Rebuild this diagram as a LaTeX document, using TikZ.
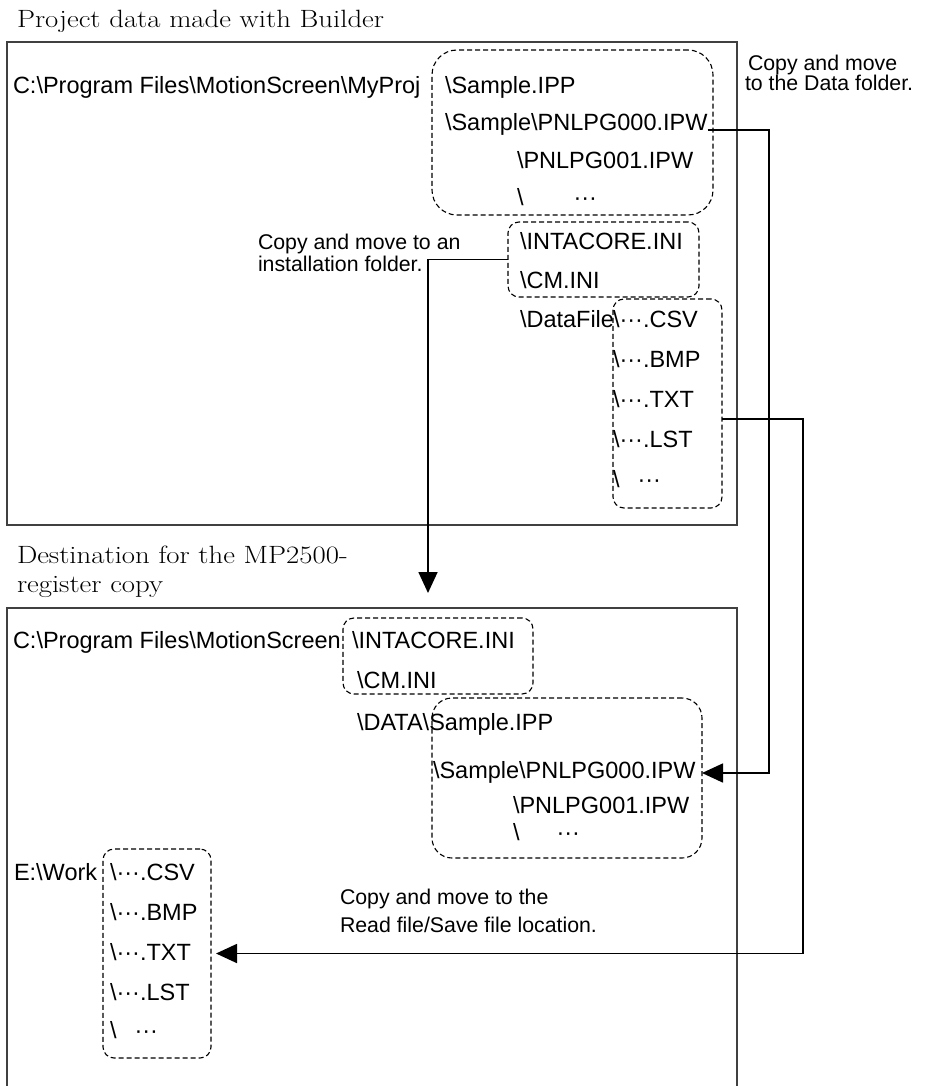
\documentclass[tikz,border=0pt]{standalone}
\usepackage{fontspec}
\usepackage{graphicx}
\usetikzlibrary{arrows.meta}
\newfontfamily\sansf{Liberation Sans}
\newcommand\myBs{\textbackslash}
\newcommand\mydots{\textperiodcentered\textperiodcentered\textperiodcentered}
\tikzset{
 txt/.style={anchor=base west, inner sep=0pt, outer sep=0pt, font=\sansf\fontsize{23.5}{28}\selectfont},
 lbl/.style={anchor=base west, inner sep=0pt, outer sep=0pt, font=\sansf\fontsize{21.3}{25}\selectfont},
 ttl/.style={anchor=base west, inner sep=0pt, outer sep=0pt, font=\fontsize{25}{30}\selectfont},
 dbox/.style={draw=black, dash pattern=on 5pt off 3pt, line width=1.1pt, rounded corners=#1, inner sep=0pt, outer sep=0pt},
 frame/.style={draw=black!75, line width=1.3pt},
 conn/.style={line width=1.7pt, -{Triangle[length=21pt,width=19pt]}},
}
\begin{document}
\begin{tikzpicture}[x=1pt,y=-1pt]
\useasboundingbox (0,0) rectangle (927,1086);
% ---------- top part ----------
\node[ttl] (t1) at (17,28) {\scalebox{1.15}[1]{Project data made with Builder}};
\node[frame, minimum width=730pt, minimum height=483pt, inner sep=0pt, outer sep=0pt] (fr1) at (372,283.5) {};

\node[txt] (p1) at (13,94) {C:\myBs{}Program Files\myBs{}MotionScreen\myBs{}MyProj};
\node[txt] (s1) at (445,94) {\myBs{}Sample.IPP};
\node[txt] (s2) at (445,131) {\myBs{}Sample\myBs{}PNLPG000.IPW};
\node[txt] (s3) at (517,168) {\myBs{}PNLPG001.IPW};
\node[txt] (s4) at (517,205) {\myBs\hspace{50pt}\mydots};
\node[dbox=25, minimum width=281pt, minimum height=165pt] (box1) at (572.5,132.5) {};

\node[lbl] (l1a) at (748,71) {Copy and move};
\node[lbl] (l1b) at (745,91) {to the Data folder.};

\node[lbl] (l2a) at (258,249) {Copy and move to an};
\node[lbl] (l2b) at (258,271) {installation folder.};

\node[txt] (i1) at (520,249) {\myBs{}INTACORE.INI};
\node[txt] (i2) at (520,288) {\myBs{}CM.INI};
\node[dbox=11, minimum width=191pt, minimum height=75pt] (box2) at (603.5,259.5) {};

\node[txt] (df) at (520,327) {\myBs{}DataFile};
\node[txt] (f1) at (613,327) {\myBs\mydots.CSV};
\node[txt] (f2) at (613,367) {\myBs\mydots.BMP};
\node[txt] (f3) at (613,407) {\myBs\mydots.TXT};
\node[txt] (f4) at (613,447) {\myBs\mydots.LST};
\node[txt] (f5) at (613,487) {\myBs\hspace{18pt}\mydots};
\node[dbox=11, minimum width=109pt, minimum height=209pt] (box3) at (667.5,403.5) {};

% ---------- bottom part ----------
\node[ttl] (t2a) at (17,563) {\scalebox{1.15}[1]{Destination for the MP2500-}};
\node[ttl] (t2b) at (17,592) {\scalebox{1.15}[1]{register copy}};
\draw[frame] (7,1086) -- (7,608) -- (737,608) -- (737,1086);

\node[txt] (q1) at (13,648) {C:\myBs{}Program Files\myBs{}MotionScreen};
\node[txt] (q2) at (352,648) {\myBs{}INTACORE.INI};
\node[txt] (q3) at (357,688) {\myBs{}CM.INI};
\node[dbox=11, minimum width=190pt, minimum height=76pt] (box4) at (438,656) {};

\node[txt] (q4) at (357,730) {\myBs{}DATA\myBs{}Sample.IPP};
\node[txt] (q5) at (433,778) {\myBs{}Sample\myBs{}PNLPG000.IPW};
\node[txt] (q6) at (513,813) {\myBs{}PNLPG001.IPW};
\node[txt] (q7) at (513,840) {\myBs\hspace{37pt}\mydots};
\node[dbox=20, minimum width=270pt, minimum height=160pt] (box5) at (567,778) {};

\node[lbl] (l3a) at (340,904) {Copy and move to the};
\node[lbl] (l3b) at (340,932) {Read file/Save file location.};

\node[txt] (e0) at (14,880) {E:\myBs{}Work};
\node[txt] (e1) at (110,880) {\myBs\mydots.CSV};
\node[txt] (e2) at (110,920) {\myBs\mydots.BMP};
\node[txt] (e3) at (110,960) {\myBs\mydots.TXT};
\node[txt] (e4) at (110,1000) {\myBs\mydots.LST};
\node[txt] (e5) at (110,1038) {\myBs\hspace{18pt}\mydots};
\node[dbox=11, minimum width=108pt, minimum height=209pt] (box6) at (157,953.5) {};

% ---------- connectors ----------
\coordinate (k1a) at (769,130);
\coordinate (k1b) at (769,773);
\draw[conn] ([yshift=1pt]s2.base east) -- (k1a) -- (k1b) -- (k1b -| box5.east);

\coordinate (k2) at (428,593);
\draw[conn] (box2.west) -| (k2);

\coordinate (k3) at (803,419);
\draw[conn, shorten >=5pt] (k3 -| box3.east) -- (k3) |- (box6.east);
\end{tikzpicture}
\end{document}
